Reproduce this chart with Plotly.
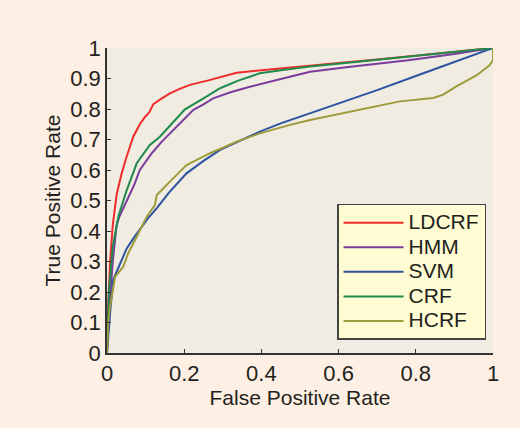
import plotly.graph_objects as go

# ---- data ----
ldcrf_x = [0, 0.003, 0.008, 0.015, 0.025, 0.038, 0.05, 0.068, 0.085, 0.098, 0.11, 0.12, 0.14, 0.163, 0.19, 0.215, 0.26, 0.3, 0.336, 0.4, 0.5, 0.6, 0.7, 0.8, 0.9, 1]
ldcrf_y = [0, 0.15, 0.3, 0.42, 0.52, 0.589, 0.64, 0.709, 0.75, 0.773, 0.79, 0.816, 0.833, 0.851, 0.867, 0.879, 0.893, 0.907, 0.919, 0.927, 0.94, 0.951, 0.962, 0.975, 0.988, 1]

hmm_x = [0, 0.006, 0.015, 0.025, 0.033, 0.052, 0.07, 0.085, 0.1, 0.116, 0.142, 0.172, 0.198, 0.224, 0.25, 0.275, 0.32, 0.37, 0.44, 0.526, 0.62, 0.7, 0.78, 0.9, 1]
hmm_y = [0, 0.15, 0.3, 0.42, 0.45, 0.5, 0.55, 0.6, 0.625, 0.655, 0.693, 0.731, 0.766, 0.797, 0.815, 0.835, 0.855, 0.873, 0.895, 0.922, 0.937, 0.948, 0.96, 0.98, 1]

svm_x = [0, 0.004, 0.008, 0.016, 0.034, 0.051, 0.068, 0.085, 0.105, 0.129, 0.16, 0.206, 0.25, 0.293, 0.35, 0.396, 0.45, 0.526, 0.6, 0.7, 0.8, 0.9, 1]
svm_y = [0, 0.07, 0.13, 0.24, 0.29, 0.343, 0.375, 0.403, 0.44, 0.475, 0.525, 0.589, 0.63, 0.666, 0.7, 0.726, 0.753, 0.786, 0.818, 0.862, 0.908, 0.953, 1]

crf_x = [0, 0.005, 0.015, 0.03, 0.05, 0.077, 0.111, 0.137, 0.17, 0.202, 0.25, 0.293, 0.34, 0.396, 0.45, 0.526, 0.65, 0.8, 1]
crf_y = [0, 0.2, 0.35, 0.45, 0.53, 0.622, 0.682, 0.709, 0.755, 0.799, 0.835, 0.868, 0.893, 0.917, 0.927, 0.939, 0.955, 0.975, 1]

hcrf_x = [0, 0.003, 0.008, 0.021, 0.042, 0.055, 0.077, 0.103, 0.124, 0.129, 0.163, 0.206, 0.267, 0.336, 0.396, 0.474, 0.526, 0.593, 0.698, 0.759, 0.845, 0.871, 0.905, 0.957, 0.991, 1, 1]
hcrf_y = [0, 0.1, 0.152, 0.25, 0.283, 0.327, 0.381, 0.447, 0.485, 0.518, 0.562, 0.616, 0.655, 0.693, 0.72, 0.748, 0.764, 0.781, 0.809, 0.825, 0.836, 0.847, 0.874, 0.91, 0.943, 0.96, 1]

series = [
    ("LDCRF", ldcrf_x, ldcrf_y, "#EE2B2B"),
    ("HMM", hmm_x, hmm_y, "#7B3C9E"),
    ("SVM", svm_x, svm_y, "#2C52A0"),
    ("CRF", crf_x, crf_y, "#1F8A4C"),
    ("HCRF", hcrf_x, hcrf_y, "#9E9B3A"),
]

tick_vals = [0, 0.1, 0.2, 0.3, 0.4, 0.5, 0.6, 0.7, 0.8, 0.9, 1]
tick_text = ["0", "0.1", "0.2", "0.3", "0.4", "0.5", "0.6", "0.7", "0.8", "0.9", "1"]
xtick_vals = [0, 0.2, 0.4, 0.6, 0.8, 1]
xtick_text = ["0", "0.2", "0.4", "0.6", "0.8", "1"]

fig = go.Figure()
for name, xs, ys, col in series:
    fig.add_trace(go.Scatter(x=xs, y=ys, mode="lines",
                             name='<span style="font-size:21px">%s</span>' % name,
                             line=dict(color=col, width=2)))

fam = "Arial"
txt = "#231F20"
fig.update_layout(
    width=520, height=428,
    margin=dict(l=107, r=27, t=48, b=75, autoexpand=False),
    paper_bgcolor="#FDEFE3",
    plot_bgcolor="#F0ECE2",
    font=dict(family=fam, size=20, color=txt),
    showlegend=True,
    legend=dict(x=0.982, y=0.043, xanchor="right", yanchor="bottom",
                bgcolor="#FFFBD2", bordercolor="#444444", borderwidth=1.5,
                font=dict(family=fam, size=16.6, color=txt),
                itemwidth=60, tracegroupgap=0),
)
fig.update_xaxes(range=[0, 1], tickvals=xtick_vals, ticktext=xtick_text,
                 tickfont=dict(family=fam, size=22, color=txt),
                 showgrid=False, zeroline=False, showline=True, linecolor="#333333", linewidth=1.5,
                 ticks="inside", ticklen=4, tickcolor="#333333", automargin=False,
                 title=dict(text="False Positive Rate", standoff=4,
                            font=dict(family=fam, size=21, color=txt)))
fig.update_yaxes(range=[0, 1], tickvals=tick_vals, ticktext=tick_text,
                 tickfont=dict(family=fam, size=22, color=txt),
                 showgrid=False, zeroline=False, showline=True, linecolor="#333333", linewidth=1.5,
                 ticks="inside", ticklen=4, tickcolor="#333333", automargin=False,
                 title=dict(text="True Positive Rate", standoff=4,
                            font=dict(family=fam, size=21, color=txt)))

fig.write_html("out.html", config={"displayModeBar": False},
               post_script="document.body.style.margin='0';")
